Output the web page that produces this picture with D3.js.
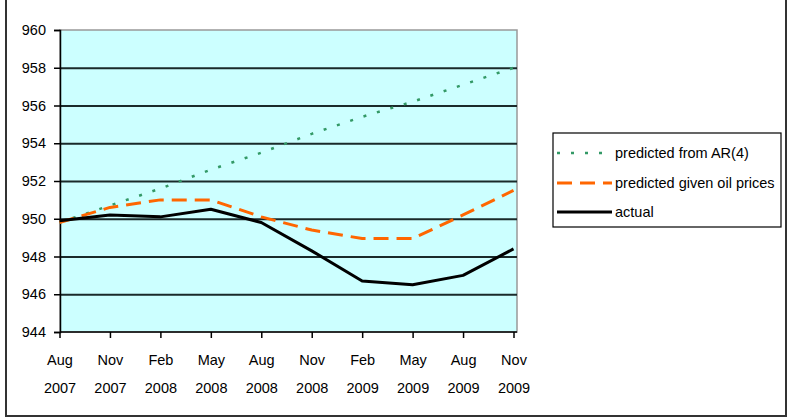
<!DOCTYPE html>
<html>
<head>
<meta charset="utf-8">
<script src="https://cdn.jsdelivr.net/npm/d3@7"></script>
<style>
  html, body { margin: 0; padding: 0; background: #fff; }
  svg { display: block; }
  text { font-family: "Liberation Sans", Arial, sans-serif; fill: #000; }
</style>
</head>
<body>
<svg id="chart" width="788" height="419"></svg>
<script>
// ---- data ----
const categories = ["Aug 2007","Nov 2007","Feb 2008","May 2008","Aug 2008","Nov 2008","Feb 2009","May 2009","Aug 2009","Nov 2009"];
const predictedAR4 = [949.8, 950.7, 951.6, 952.6, 953.5, 954.5, 955.4, 956.2, 957.1, 958.0];
const predictedOil = [949.8, 950.6, 951.0, 951.0, 950.1, 949.4, 948.95, 948.95, 950.2, 951.5];
const actual       = [949.9, 950.2, 950.1, 950.5, 949.8, 948.3, 946.7, 946.5, 947.0, 948.4];
const yTicks = [944, 946, 948, 950, 952, 954, 956, 958, 960];
const seriesNames = ["predicted from AR(4)", "predicted given oil prices", "actual"];

const svg = d3.select("#chart");

// outer border
svg.append("rect").attr("x", 6).attr("y", -2).attr("width", 780).attr("height", 418)
  .attr("fill", "none").attr("stroke", "#333").attr("stroke-width", 2);

const plot = {left: 60, right: 517, top: 30, bottom: 332};
const x = d3.scalePoint().domain(categories).range([59.5, 513.5]);
const y = d3.scaleLinear().domain([944, 960]).range([plot.bottom, plot.top]);

// plot background
svg.append("rect").attr("x", plot.left).attr("y", plot.top)
  .attr("width", plot.right - plot.left).attr("height", plot.bottom - plot.top)
  .attr("fill", "#CCFFFF").attr("stroke", "#999").attr("stroke-width", 1.5);

// gridlines
const grid = svg.append("g").attr("transform", `translate(${plot.left},0)`)
  .call(d3.axisLeft(y).tickValues(yTicks.filter(v => v > 944 && v < 960)).tickSize(-(plot.right - plot.left)).tickFormat(""));
grid.select(".domain").remove();
grid.selectAll("line").attr("stroke", "#1a2a2a").attr("stroke-width", 2);

// y axis
const yAxis = svg.append("g").attr("transform", `translate(${plot.left},0)`)
  .call(d3.axisLeft(y).tickValues(yTicks).tickSize(6).tickPadding(8).tickFormat(d3.format("d")));
yAxis.select(".domain").attr("stroke", "#000").attr("stroke-width", 1.5);
yAxis.selectAll(".tick line").attr("stroke", "#000").attr("stroke-width", 1.5);
yAxis.selectAll("text").style("font-size", "14.5px").style("font-family", "Liberation Sans, Arial, sans-serif").attr("fill", "#000");

// x axis
const xAxis = svg.append("g").attr("transform", `translate(0,${plot.bottom})`)
  .call(d3.axisBottom(x).tickSize(6).tickFormat(""));
xAxis.select(".domain").attr("stroke", "#000").attr("stroke-width", 1.5)
  .attr("d", `M${plot.left},0H${plot.right}`);
xAxis.selectAll(".tick line").attr("stroke", "#000").attr("stroke-width", 1.5);
xAxis.selectAll(".tick").each(function(d) {
  const parts = d.split(" ");
  const t = d3.select(this).append("text").attr("text-anchor", "middle")
    .style("font-size", "14.5px").attr("fill", "#000");
  t.append("tspan").attr("x", 0).attr("y", 33).text(parts[0]);
  t.append("tspan").attr("x", 0).attr("y", 61).text(parts[1]);
});

// lines
const line = d3.line().x((d, i) => x(categories[i])).y(d => y(d));
const styles = [
  {data: predictedAR4, color: "#339966", width: 2.5, dash: "3,11"},
  {data: predictedOil, color: "#FF6600", width: 3, dash: "15,8"},
  {data: actual, color: "#000000", width: 3, dash: null}
];
styles.forEach(s => {
  svg.append("path").datum(s.data).attr("d", line)
    .attr("fill", "none").attr("stroke", s.color).attr("stroke-width", s.width)
    .attr("stroke-dasharray", s.dash).attr("stroke-linejoin", "round");
});

// legend
const lg = svg.append("g");
lg.append("rect").attr("x", 553).attr("y", 133).attr("width", 228).attr("height", 94)
  .attr("fill", "#fff").attr("stroke", "#000").attr("stroke-width", 1.2);
const rowY = [153, 183, 212];
seriesNames.forEach((name, i) => {
  const s = styles[i];
  lg.append("line").attr("x1", 557).attr("x2", 612).attr("y1", rowY[i]).attr("y2", rowY[i])
    .attr("stroke", s.color).attr("stroke-width", s.width).attr("stroke-dasharray", s.dash);
  lg.append("text").attr("x", 615).attr("y", rowY[i] + 5).style("font-size", "14.5px").text(name);
});
</script>
</body>
</html>
